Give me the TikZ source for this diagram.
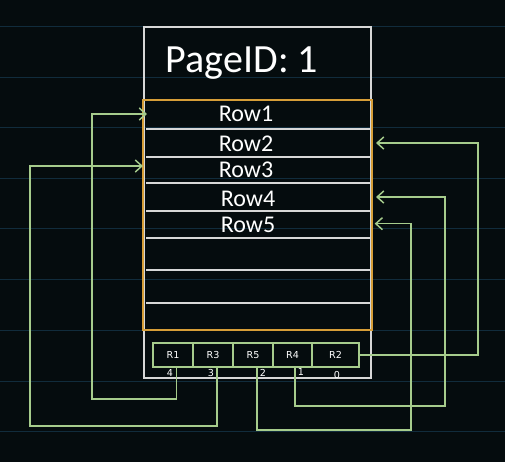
\documentclass[tikz,border=0pt]{standalone}
\usepackage{fontspec}
\setmainfont{Carlito}
\newfontfamily\slotfont{DejaVu Sans}
\usepackage{tikz}
\usetikzlibrary{positioning, arrows.meta}
\definecolor{board}{RGB}{5,12,14}
\definecolor{ruling}{RGB}{17,44,60}
\definecolor{chalk}{RGB}{215,215,215}
\definecolor{amber}{RGB}{214,158,56}
\definecolor{mint}{RGB}{166,204,140}
\tikzset{>={Straight Barb[length=5pt,width=9pt]},
         node distance=0pt,
         frame/.style={draw=chalk, line width=1.1pt, inner sep=0pt, outer sep=0pt},
         rowtext/.style={text=white, font=\fontsize{18}{20}\selectfont, inner sep=0pt},
         slot/.style={draw=mint, line width=1pt, minimum width=30pt, minimum height=18pt,
                      inner sep=0pt, outer sep=0pt, text=white, font=\slotfont\fontsize{7.2}{8}\selectfont},
         idx/.style={text=white, inner sep=0pt, font=\slotfont\fontsize{7.2}{8}\selectfont},
         link/.style={->, draw=mint, line width=1.1pt},
         }

\begin{document}
\begin{tikzpicture}[x=0.75pt, y=-0.75pt]
    \fill[board] (0,0) rectangle (505,462);
    \useasboundingbox (0,0) rectangle (505,462);
    \foreach \y in {26,77,127,178,228,279,330,381,431}
        \draw[ruling, line width=0.6pt] (0,\y) -- (505,\y);

    % page and heap area
    \node[frame, minimum width=170.25pt, minimum height=263.25pt] (page) at (257.5,202.5) {};
    \node[anchor=base, text=white, inner sep=0pt, font=\fontsize{30}{32}\selectfont] (title) at (242,72) {PageID: 1};
    \node[draw=amber, line width=1.5pt, minimum width=171.75pt, minimum height=172.5pt,
          inner sep=0pt, outer sep=0pt] (heap) at (257.5,215) {};
    \foreach \y in {129,157,183,211,238,270,303}
        \draw[chalk, line width=1pt] (146,\y) -- (370,\y);

    \node[rowtext] (row1) at (246,114) {Row1};
    \node[rowtext] (row2) at (246,144) {Row2};
    \node[rowtext] (row3) at (246,170) {Row3};
    \node[rowtext] (row4) at (248,199) {Row4};
    \node[rowtext] (row5) at (248,225) {Row5};

    % slot array
    \node[slot] (s1) at (173,355) {R1};
    \node[slot, right=of s1] (s2) {R3};
    \node[slot, right=of s2] (s3) {R5};
    \node[slot, right=of s3, minimum width=29.25pt] (s4) {R4};
    \node[slot, right=of s4, minimum width=35.25pt] (s5) {R2};

    \node[idx] (i4) at (170,373) {4};
    \node[idx] (i3) at (211,373) {3};
    \node[idx] (i2) at (263,373) {2};
    \node[idx] (i1) at (301,372) {1};
    \node[idx] (i0) at (337,375) {0};

    % slot pointers
    \draw[link] ([xshift=2.5pt]s1.south) |- (92,399) |- ([xshift=3pt]heap.west |- row1);
    \draw[link] ([xshift=3pt]s2.south) |- (30,426) |- ([yshift=3pt]heap.west |- row3);
    \draw[link] ([xshift=3pt]s3.south) |- (411,430) |- ([xshift=2pt,yshift=1pt]heap.east |- row5);
    \draw[link] ([xshift=2pt]s4.south) |- (445,406) |- ([xshift=3pt,yshift=1.5pt]heap.east |- row4);
    \draw[link] (s5.east) -- ++(119,0) |- ([xshift=3pt,yshift=0.75pt]heap.east |- row2);
\end{tikzpicture}
\end{document}
